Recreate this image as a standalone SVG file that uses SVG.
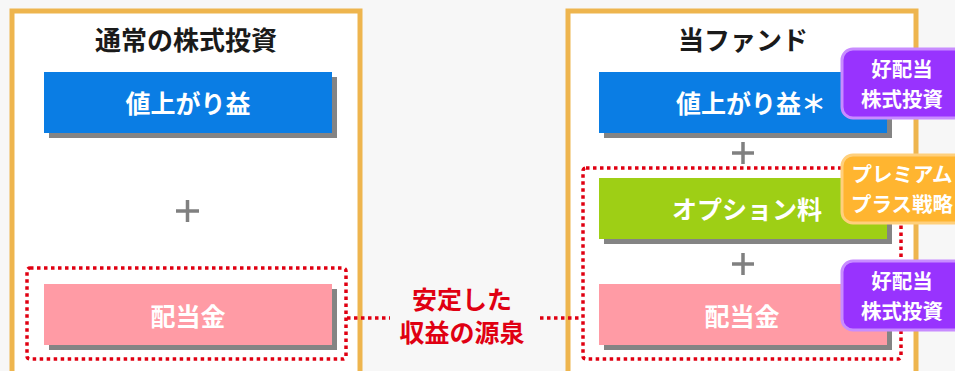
<svg xmlns="http://www.w3.org/2000/svg" width="955" height="371" viewBox="0 0 955 371">
<style>
text{font-family:"Noto Sans CJK JP","Noto Sans",sans-serif;font-weight:bold;text-anchor:middle}
.panel{fill:#fff;stroke:#eeb54e;stroke-width:5}
.shadow{fill:#848484}
.blue{fill:#0a7de4}
.green{fill:#9ecf15}
.pink{fill:#ff9ba5}
.wt{fill:#fff;font-size:25px}
.title{fill:#1a1a1a;font-size:26px}
.plus{stroke:#808080;stroke-width:3.5;fill:none}
.dot{fill:none;stroke:#e00012;stroke-width:3.5;stroke-dasharray:3.5 3.5}
.red{fill:#e00012;font-size:25px}
.purple{fill:#9833fe;stroke:#c88cff;stroke-width:3}
.orange{fill:#ffb530;stroke:#ffd07c;stroke-width:3}
.bt{fill:#fff;font-size:20.5px}
</style>
<rect width="955" height="371" fill="#f7f7f7"/>
<g id="panel-left">
<rect class="panel" x="12" y="11" width="348" height="370"/>
<text class="title" x="186" y="50">通常の株式投資</text>
</g>
<g id="left-gain">
<rect class="shadow" x="49" y="77" width="288" height="61"/>
<rect class="blue" x="44" y="72" width="288" height="61"/>
<text class="wt" x="188" y="113">値上がり益</text>
</g>
<g id="left-plus"><path class="plus" d="M176 211H199M187.5 200V222"/></g>
<g id="left-dividend">
<rect class="shadow" x="49" y="289" width="288" height="61"/>
<rect class="pink" x="44" y="284" width="288" height="61"/>
<text class="wt" x="188" y="326">配当金</text>
</g>
<g id="left-dotted"><rect class="dot" x="27" y="268" width="319" height="91" rx="3"/></g>
<g id="panel-right">
<rect class="panel" x="568" y="11" width="348" height="370"/>
<text class="title" x="743" y="50">当ファンド</text>
</g>
<g id="right-gain">
<rect class="shadow" x="604" y="77" width="288" height="61"/>
<rect class="blue" x="599" y="72" width="288" height="61"/>
<text class="wt" x="751" y="113">値上がり益＊</text>
</g>
<g id="right-plus1"><path class="plus" d="M732 153H754M743 142V164"/></g>
<g id="right-option">
<rect class="shadow" x="604" y="183" width="288" height="61"/>
<rect class="green" x="599" y="178" width="288" height="61"/>
<text class="wt" x="747" y="219">オプション料</text>
</g>
<g id="right-plus2"><path class="plus" d="M732 264H754M743 253V275"/></g>
<g id="right-dividend">
<rect class="shadow" x="604" y="289" width="288" height="61"/>
<rect class="pink" x="599" y="284" width="288" height="61"/>
<text class="wt" x="742" y="326">配当金</text>
</g>
<g id="right-dotted"><rect class="dot" x="583" y="168" width="318" height="191" rx="3"/></g>
<g id="connectors">
<path class="dot" d="M347 318H390"/>
<path class="dot" d="M540 318H582"/>
</g>
<g id="label-stable">
<text class="red" x="462" y="309">安定した</text>
<text class="red" x="462" y="342">収益の源泉</text>
</g>
<g id="badge1">
<rect class="purple" x="842" y="49" width="124" height="69" rx="11"/>
<text class="bt" x="902" y="77">好配当</text>
<text class="bt" x="902" y="107">株式投資</text>
</g>
<g id="badge2">
<rect class="orange" x="842" y="155" width="124" height="68" rx="11"/>
<text class="bt" x="902" y="182">プレミアム</text>
<text class="bt" x="902" y="212">プラス戦略</text>
</g>
<g id="badge3">
<rect class="purple" x="842" y="261" width="124" height="69" rx="11"/>
<text class="bt" x="902" y="289">好配当</text>
<text class="bt" x="902" y="319">株式投資</text>
</g>
</svg>
